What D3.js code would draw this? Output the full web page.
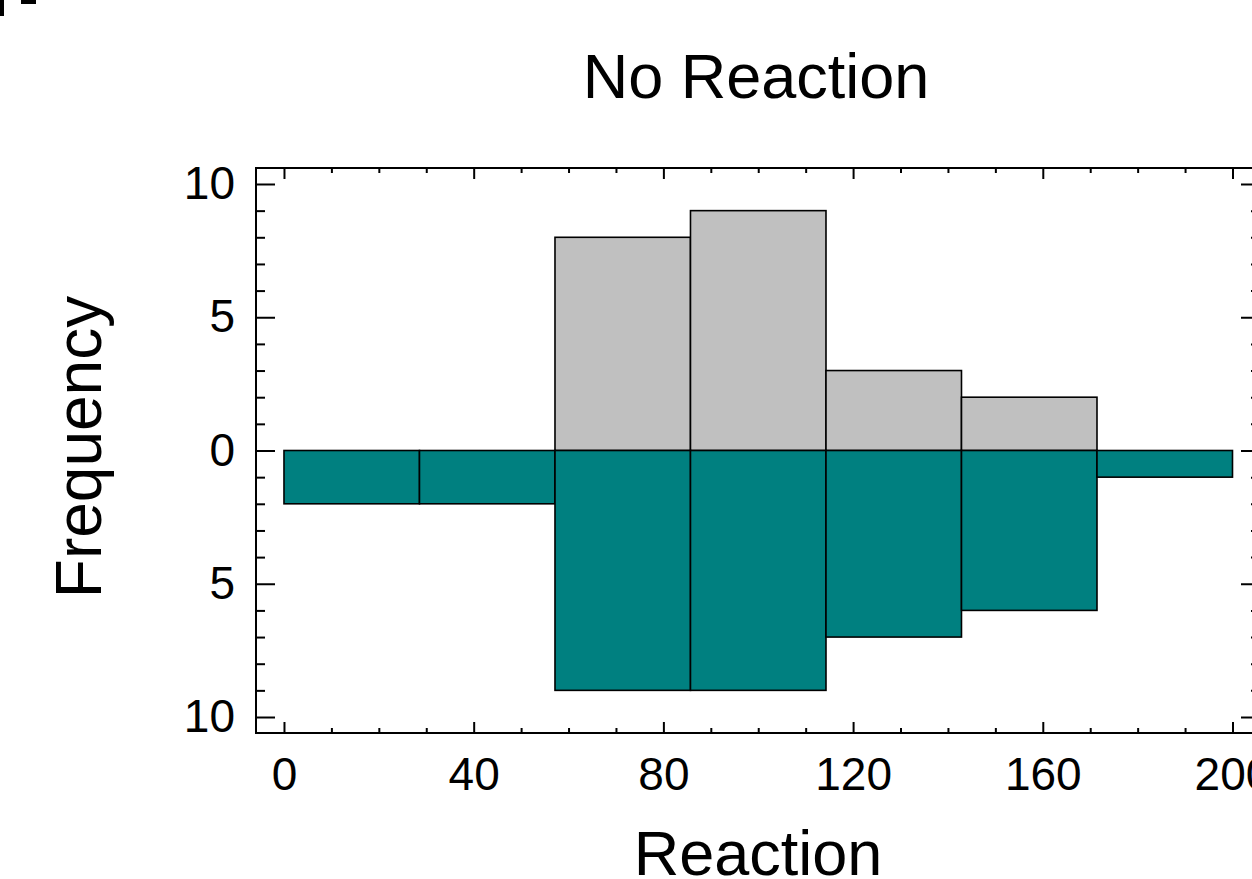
<!DOCTYPE html>
<html>
<head>
<meta charset="utf-8">
<script src="https://cdn.jsdelivr.net/npm/d3@7"></script>
<style>
  html, body { margin: 0; padding: 0; background: #fff; }
  svg { display: block; font-family: "Liberation Sans", Arial, sans-serif; }
</style>
</head>
<body>
<svg id="chart" width="1252" height="879"></svg>
<script>
// ---- data ----
const binEdges = [0, 28.571, 57.143, 85.714, 114.286, 142.857, 171.429, 200];
const upperCounts = [0, 0, 8, 9, 3, 2, 0];   // grey, above zero
const lowerCounts = [2, 2, 9, 9, 7, 6, 1];   // teal, below zero
const xMajorTicks = [0, 40, 80, 120, 160, 200];
const xMinorTicks = [10, 20, 30, 50, 60, 70, 90, 100, 110, 130, 140, 150, 170, 180, 190];
const yMajorTicks = [-10, -5, 0, 5, 10];
const yMinorTicks = [-9, -8, -7, -6, -4, -3, -2, -1, 1, 2, 3, 4, 6, 7, 8, 9];
const titleText = "No Reaction";
const xLabel = "Reaction";
const yLabel = "Frequency";

// ---- layout ----
const L = 256, R = 1260, T = 168, B = 733;
const svg = d3.select("#chart");

const x = d3.scaleLinear().domain([-5.9, 205.8]).range([L, R]);
const y = d3.scaleLinear().domain([-10.6, 10.6]).range([B, T]);

// corner artifact
svg.append("rect").attr("x", 0).attr("y", 0).attr("width", 4).attr("height", 16).attr("fill", "#000");
svg.append("rect").attr("x", 21).attr("y", 0).attr("width", 15).attr("height", 4).attr("fill", "#000");

// bins
const bins = binEdges.slice(0, -1).map((e, i) => ({ x0: e, x1: binEdges[i + 1], up: upperCounts[i], down: lowerCounts[i] }));

const g = svg.append("g");
g.selectAll("rect.up").data(bins.filter(d => d.up > 0)).join("rect")
  .attr("class", "up")
  .attr("x", d => x(d.x0)).attr("width", d => x(d.x1) - x(d.x0))
  .attr("y", d => y(d.up)).attr("height", d => y(0) - y(d.up))
  .attr("fill", "#c0c0c0").attr("stroke", "#000").attr("stroke-width", 1.6);

g.selectAll("rect.down").data(bins.filter(d => d.down > 0)).join("rect")
  .attr("class", "down")
  .attr("x", d => x(d.x0)).attr("width", d => x(d.x1) - x(d.x0))
  .attr("y", y(0)).attr("height", d => y(-d.down) - y(0))
  .attr("fill", "#008080").attr("stroke", "#000").attr("stroke-width", 1.6);

// frame
svg.append("rect").attr("x", L).attr("y", T).attr("width", R - L).attr("height", B - T)
  .attr("fill", "none").attr("stroke", "#000").attr("stroke-width", 2);

function styleAxis(sel) {
  sel.select(".domain").remove();
  sel.selectAll(".tick line").attr("stroke", "#000").attr("stroke-width", 2);
  sel.selectAll("text").attr("fill", "#000").attr("font-size", 46).attr("font-family", "Liberation Sans, Arial, sans-serif");
}

// bottom x axis (labels) with inward ticks
svg.append("g").attr("transform", `translate(0,${B})`)
  .call(d3.axisBottom(x).tickValues(xMajorTicks).tickSizeInner(-11).tickSizeOuter(0).tickPadding(24))
  .call(styleAxis);
svg.append("g").attr("transform", `translate(0,${B})`)
  .call(d3.axisBottom(x).tickValues(xMinorTicks).tickSizeInner(-5).tickSizeOuter(0).tickFormat(""))
  .call(styleAxis);
// top x axis
svg.append("g").attr("transform", `translate(0,${T})`)
  .call(d3.axisBottom(x).tickValues(xMajorTicks).tickSizeInner(11).tickSizeOuter(0).tickFormat(""))
  .call(styleAxis);
svg.append("g").attr("transform", `translate(0,${T})`)
  .call(d3.axisBottom(x).tickValues(xMinorTicks).tickSizeInner(5).tickSizeOuter(0).tickFormat(""))
  .call(styleAxis);

// left y axis
svg.append("g").attr("transform", `translate(${L},0)`)
  .call(d3.axisLeft(y).tickValues(yMajorTicks).tickSizeInner(-19).tickSizeOuter(0).tickPadding(21)
    .tickFormat(d => Math.abs(d)))
  .call(styleAxis);
svg.append("g").attr("transform", `translate(${L},0)`)
  .call(d3.axisLeft(y).tickValues(yMinorTicks).tickSizeInner(-9).tickSizeOuter(0).tickFormat(""))
  .call(styleAxis);
// right y axis
svg.append("g").attr("transform", `translate(${R},0)`)
  .call(d3.axisLeft(y).tickValues(yMajorTicks).tickSizeInner(19).tickSizeOuter(0).tickFormat(""))
  .call(styleAxis);
svg.append("g").attr("transform", `translate(${R},0)`)
  .call(d3.axisLeft(y).tickValues(yMinorTicks).tickSizeInner(9).tickSizeOuter(0).tickFormat(""))
  .call(styleAxis);

// titles
svg.append("text").attr("x", 756).attr("y", 98).attr("text-anchor", "middle")
  .attr("font-size", 63).attr("fill", "#000").text(titleText);
svg.append("text").attr("x", 758).attr("y", 875).attr("text-anchor", "middle")
  .attr("font-size", 63).attr("fill", "#000").text(xLabel);
svg.append("text").attr("transform", "translate(101,447) rotate(-90)").attr("text-anchor", "middle")
  .attr("font-size", 64).attr("fill", "#000").text(yLabel);
</script>
</body>
</html>
